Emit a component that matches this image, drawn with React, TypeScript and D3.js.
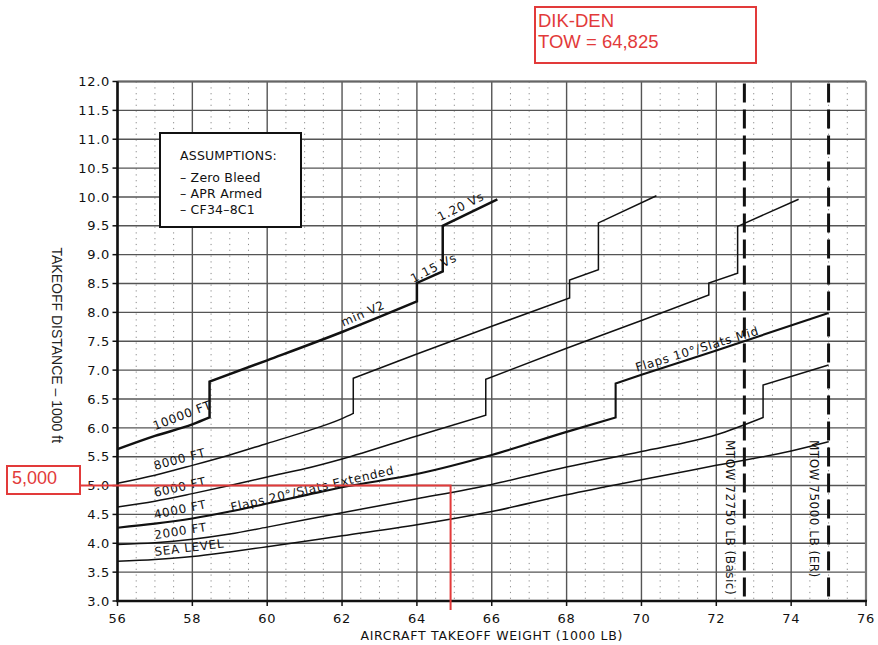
import React from 'react'
import * as d3 from 'd3'

type Pt = [number, number]

// takeoff distance (1000 ft) vs weight (1000 lb); each curve split at its steps
const seaLevel: Pt[][] = [
  [[56, 3.69], [57, 3.72], [58, 3.77], [59, 3.85], [60, 3.94], [62, 4.13], [64, 4.32], [66, 4.55], [68, 4.84], [70, 5.1], [72, 5.35], [74, 5.6], [75, 5.76]]
]
const alt2000: Pt[][] = [
  [[56, 3.98], [57, 4.01], [58, 4.07], [59, 4.16], [60, 4.28], [62, 4.53], [64, 4.77], [66, 5.02], [68, 5.32], [70, 5.59], [72, 5.88], [73.25, 6.18]],
  [[73.25, 6.74], [75, 7.09]]
]
const alt4000: Pt[][] = [
  [[56, 4.27], [57, 4.34], [58, 4.43], [59, 4.55], [60, 4.69], [61, 4.83], [62, 4.97], [64, 5.2], [66, 5.53], [68, 5.93], [69.31, 6.18]],
  [[69.31, 6.77], [70, 6.92], [72, 7.34], [75, 7.99]]
]
const alt6000: Pt[][] = [
  [[56, 4.63], [57, 4.73], [58, 4.86], [59, 5.0], [60, 5.15], [61, 5.29], [62, 5.46], [64, 5.86], [65.84, 6.22]],
  [[65.84, 6.84], [68, 7.38], [70, 7.86], [71.8, 8.3]],
  [[71.8, 8.51], [72.57, 8.68]],
  [[72.57, 9.49], [74.2, 9.96]]
]
const alt8000: Pt[][] = [
  [[56, 5.04], [57, 5.18], [58, 5.35], [59, 5.53], [60, 5.73], [61, 5.93], [62, 6.16], [62.3, 6.25]],
  [[62.3, 6.86], [64, 7.28], [66, 7.76], [68.08, 8.25]],
  [[68.08, 8.56], [68.85, 8.74]],
  [[68.85, 9.55], [70.4, 10.02]]
]
const alt10000: Pt[][] = [
  [[56, 5.63], [57, 5.86], [58, 6.06], [58.46, 6.18]],
  [[58.46, 6.8], [60, 7.17], [62, 7.66], [64, 8.19]],
  [[64, 8.51], [64.69, 8.71]],
  [[64.69, 9.5], [66.15, 9.96]]
]

const curves = [
  { name: 'SEA LEVEL', segs: seaLevel, w: 1.5 },
  { name: '2000 FT', segs: alt2000, w: 1.5 },
  { name: '4000 FT', segs: alt4000, w: 2.1 },
  { name: '6000 FT', segs: alt6000, w: 1.5 },
  { name: '8000 FT', segs: alt8000, w: 1.5 },
  { name: '10000 FT', segs: alt10000, w: 2.5 }
]

// text, weight, distance, angle
const curveLabels: [string, number, number, number][] = [
  ['10000 FT', 57.0, 5.96, -21],
  ['8000 FT', 57.0, 5.27, -15],
  ['6000 FT', 57.0, 4.8, -13],
  ['4000 FT', 57.0, 4.42, -12],
  ['Flaps 20°/Slats Extended', 59.05, 4.55, -13],
  ['2000 FT', 57.0, 4.07, -9],
  ['SEA LEVEL', 57.0, 3.78, -7],
  ['min V2', 62.03, 7.75, -24],
  ['1.15 Vs', 63.9, 8.51, -27],
  ['1.20 Vs', 64.62, 9.58, -26],
  ['Flaps 10°/Slats Mid', 69.88, 6.97, -17]
]

const mtowLines: [number, string][] = [
  [72.75, 'MTOW 72750 LB (Basic)'],
  [75, 'MTOW 75000 LB (ER)']
]

const assumptions = ['ASSUMPTIONS:', '– Zero Bleed', '– APR Armed', '– CF34–8C1']

const xTicks = d3.range(56, 76.01, 2)
const yTicks = d3.range(3, 12.01, 0.5)
const xMinor = d3.range(56.5, 76, 0.5).filter(v => v % 2 !== 0)

const towValue = 64.9 // where the red read-off line drops
const distValue = 5.0

const font = '"DejaVu Sans", sans-serif'
const arial = '"Liberation Sans", Arial, sans-serif'
const red = '#e23a3a'

export default function App() {
  const x = d3.scaleLinear().domain([56, 76]).range([117.5, 866])
  const y = d3.scaleLinear().domain([3, 12]).range([601, 81.5])

  const line = d3.line<Pt>()
    .x(p => x(p[0]))
    .y(p => y(p[1]))
    .curve(d3.curveMonotoneX)

  const pathOf = (segs: Pt[][]) =>
    segs.map((s, i) => {
      const p = line(s) || ''
      return i === 0 ? p : 'L' + p.slice(1)
    }).join('')

  const x0 = x.range()[0], x1 = x.range()[1]
  const y0 = y.range()[0], y1 = y.range()[1]

  return (
    <svg width={878} height={645} style={{ position: 'absolute', left: 0, top: 0, display: 'block', background: '#fff' }}>
      {/* dotted minor verticals */}
      {xMinor.map(v => (
        <line key={'m' + v} x1={x(v)} x2={x(v)} y1={y1} y2={y0}
          stroke="#8a8a8a" strokeWidth={1} strokeDasharray="1.2 4.6" />
      ))}
      {/* solid grid */}
      {yTicks.map(v => (
        <line key={'h' + v} x1={x0} x2={x1} y1={y(v)} y2={y(v)} stroke="#555" strokeWidth={1.4} />
      ))}
      {xTicks.map(v => (
        <line key={'v' + v} x1={x(v)} x2={x(v)} y1={y1} y2={y0} stroke="#555" strokeWidth={1.4} />
      ))}
      <line x1={x0} x2={x1} y1={y1} y2={y1} stroke="#666" strokeWidth={1.8} />
      <line x1={x1} x2={x1} y1={y1} y2={y0} stroke="#777" strokeWidth={2.2} />

      {/* assumptions box */}
      <rect x={160} y={133} width={141} height={94} fill="#fff" stroke="#111" strokeWidth={2} />
      {assumptions.map((t, i) => (
        <text key={t} x={180} y={i === 0 ? 160 : 166 + i * 16} fontFamily={font} fontSize={12.5}
          fill="#111" letterSpacing={0.2}>{t}</text>
      ))}

      {/* curves */}
      {curves.map(c => (
        <path key={c.name} d={pathOf(c.segs)} fill="none" stroke="#111" strokeWidth={c.w} strokeLinejoin="miter" />
      ))}

      {/* MTOW dashed limits */}
      {mtowLines.map(([w, label]) => (
        <g key={label}>
          <line x1={x(w)} x2={x(w)} y1={y1 + 2} y2={y0} stroke="#111" strokeWidth={3} strokeDasharray="19 7" />
          <text transform={`translate(${x(w - 0.5)},${y(5.79)}) rotate(90)`} fontFamily={font}
            fontSize={12} fill="#111" letterSpacing={0.5}>{label}</text>
        </g>
      ))}

      {/* curve labels */}
      {curveLabels.map(([t, w, d, a]) => (
        <text key={t} transform={`translate(${x(w)},${y(d)}) rotate(${a})`} fontFamily={font}
          fontSize={12} fill="#111" letterSpacing={0.7}>{t}</text>
      ))}

      {/* axes */}
      <line x1={x0} x2={x0} y1={y1} y2={y0 + 1} stroke="#111" strokeWidth={2.6} />
      <line x1={x0 - 1} x2={x1 + 1} y1={y0} y2={y0} stroke="#111" strokeWidth={2.6} />
      {yTicks.map(v => (
        <g key={'yt' + v}>
          <line x1={x0 - 5} x2={x0} y1={y(v)} y2={y(v)} stroke="#111" strokeWidth={1.5} />
          <text x={110} y={y(v)} dy="0.36em" textAnchor="end" fontFamily={font} fontSize={13}
            fill="#111" letterSpacing={0.7}>{d3.format('.1f')(v)}</text>
        </g>
      ))}
      {xTicks.map(v => (
        <g key={'xt' + v}>
          <line x1={x(v)} x2={x(v)} y1={y0} y2={y0 + 5} stroke="#111" strokeWidth={1.5} />
          <text x={x(v)} y={623} textAnchor="middle" fontFamily={font} fontSize={13}
            fill="#111" letterSpacing={0.7}>{v}</text>
        </g>
      ))}
      <text x={(x0 + x1) / 2} y={640} textAnchor="middle" fontFamily={font} fontSize={12.5}
        fill="#111" letterSpacing={0.7}>AIRCRAFT TAKEOFF WEIGHT (1000 LB)</text>
      <text transform={`translate(52,${(y0 + y1) / 2 + 4}) rotate(90)`} textAnchor="middle"
        fontFamily={arial} fontSize={14} fill="#222">TAKEOFF DISTANCE – 1000 ft</text>

      {/* red read-off annotation */}
      <polyline points={`80,${y(distValue)} ${x(towValue)},${y(distValue)} ${x(towValue)},${y0 + 9}`}
        fill="none" stroke={red} strokeWidth={2} />
      <rect x={7} y={466} width={73} height={28} fill="#fff" stroke={red} strokeWidth={2} />
      <text x={12} y={484} fontFamily={arial} fontSize={18} fill={red}>5,000</text>
      <rect x={535} y={7} width={221} height={56} fill="#fff" stroke={red} strokeWidth={2} />
      <text x={538} y={27} fontFamily={arial} fontSize={18.5} fill={red}>DIK-DEN</text>
      <text x={538} y={48} fontFamily={arial} fontSize={18.5} fill={red}>TOW = 64,825</text>
    </svg>
  )
}
